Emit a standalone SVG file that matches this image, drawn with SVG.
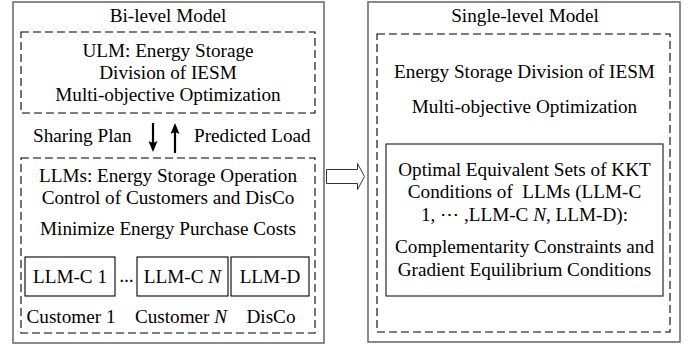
<svg xmlns="http://www.w3.org/2000/svg" width="699" height="349" viewBox="0 0 699 349">
<style>
.t{font-family:'Liberation Serif','DejaVu Serif',serif;font-size:19.2px;fill:#000;text-anchor:middle}
.s{font-family:'Liberation Serif','DejaVu Serif',serif;font-size:19.2px;fill:#000}
.outer{fill:#fff;stroke:#6e6e6e;stroke-width:1.6}
.dash{fill:none;stroke:#000;stroke-width:1.1;stroke-dasharray:8,4}
.box{fill:#fff;stroke:#000;stroke-width:1.1}
.kkt{fill:#fff;stroke:#3a3a3a;stroke-width:1.3}
.ar{stroke:#000;stroke-width:2.2;fill:none}
</style>
<defs>
<marker id="ah" viewBox="0 0 11 9" refX="8" refY="4.5" markerWidth="11" markerHeight="9" markerUnits="userSpaceOnUse" orient="auto">
<path d="M0,0 L11,4.5 L0,9 L2,4.5 Z" fill="#000"/>
</marker>
</defs>
<rect width="699" height="349" fill="#fff"/>

<g id="bilevel">
<rect class="outer" x="13" y="2" width="311" height="341"/>
<text class="t" x="168" y="22">Bi-level Model</text>
</g>

<g id="ulm">
<rect class="dash" x="21" y="32" width="294" height="81"/>
<text class="t" x="168" y="57">ULM: Energy Storage</text>
<text class="t" x="168" y="79">Division of IESM</text>
<text class="t" x="168" y="101">Multi-objective Optimization</text>
</g>

<g id="llms">
<rect class="dash" x="21" y="158" width="294" height="175"/>
<text class="t" x="168" y="182">LLMs: Energy Storage Operation</text>
<text class="t" x="168" y="204">Control of Customers and DisCo</text>
<text class="t" x="168" y="235">Minimize Energy Purchase Costs</text>
</g>

<g id="llmc1">
<rect class="box" x="25" y="257" width="90" height="39"/>
<text class="t" x="70" y="283">LLM-C 1</text>
<text class="t" x="71" y="323">Customer 1</text>
</g>

<g id="dots">
<text class="t" x="126.5" y="282" style="font-weight:bold;font-size:14px">…</text>
</g>

<g id="llmcn">
<rect class="box" x="137" y="257" width="91" height="39"/>
<text class="t" x="182.5" y="283">LLM-C <tspan font-style="italic">N</tspan></text>
<text class="t" x="181" y="323">Customer <tspan font-style="italic">N</tspan></text>
</g>

<g id="llmd">
<rect class="box" x="231" y="257" width="78" height="39"/>
<text class="t" x="270" y="283">LLM-D</text>
<text class="t" x="271" y="323">DisCo</text>
</g>

<g id="singlelevel">
<rect class="outer" x="368" y="2" width="312" height="340"/>
<text class="t" x="525" y="22">Single-level Model</text>
</g>

<g id="upper-single">
<rect class="dash" x="377" y="34" width="293" height="298"/>
<text class="t" x="524.5" y="78">Energy Storage Division of IESM</text>
<text class="t" x="524.5" y="113">Multi-objective Optimization</text>
</g>

<g id="kkt">
<rect class="kkt" x="386" y="144" width="277" height="152"/>
<text class="t" x="524.5" y="176">Optimal Equivalent Sets of KKT</text>
<text class="t" x="524.5" y="198" xml:space="preserve">Conditions of  LLMs (LLM-C</text>
<text class="t" x="524.5" y="221">1, ⋯ ,LLM-C <tspan font-style="italic">N</tspan>, LLM-D):</text>
<text class="t" x="524.5" y="253">Complementarity Constraints and</text>
<text class="t" x="524.5" y="276">Gradient Equilibrium Conditions</text>
</g>

<g id="connectors">
<line class="ar" x1="153" y1="123" x2="153" y2="149" marker-end="url(#ah)"/>
<line class="ar" x1="175" y1="153" x2="175" y2="126" marker-end="url(#ah)"/>
<text class="s" x="33" y="142">Sharing Plan</text>
<text class="s" x="194" y="142">Predicted Load</text>
<path d="M326.5,169.5 H357.5 V163.5 L364.5,176.5 L357.5,189.5 V183.5 H326.5 Z" fill="#fff" stroke="#333" stroke-width="1"/>
</g>
</svg>
